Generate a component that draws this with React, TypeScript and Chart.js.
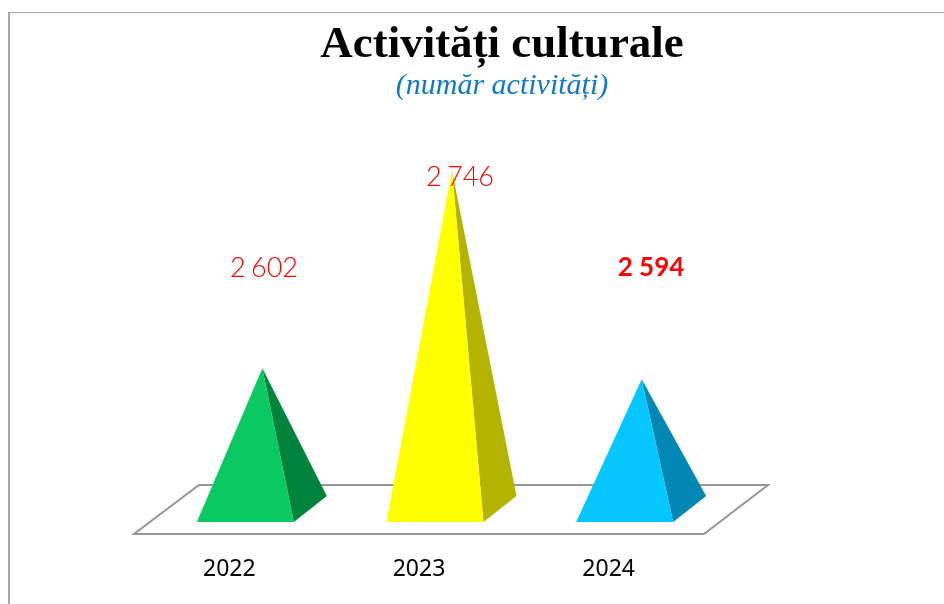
import React, { useEffect, useRef } from "react";
import { Chart, registerables } from "chart.js";

Chart.register(...registerables);

const categories = ["2022", "2023", "2024"];
const activities = [2602, 2746, 2594];
const frontColors = ["#0AC962", "#FFFF00", "#05C6FF"];
const sideColors = ["#00843C", "#B3B300", "#0087B3"];
const boldLabel = [false, false, true];
const labelShiftX = [18.7, 25, 26.3];
const labelShiftY = [-100, 7, -112];

const formatValue = (v: number) => String(v).replace(/\B(?=(\d{3})+$)/g, " ");

const pyramidPlugin = {
  id: "pyramids",
  beforeDraw(chart: any) {
    const { ctx, width, height } = chart;
    ctx.save();
    ctx.fillStyle = "#FFFFFF";
    ctx.fillRect(0, 0, width, height);
    ctx.fillStyle = "#A6A6A6";
    ctx.fillRect(8, 12, width - 8, 1);
    ctx.fillRect(8, 12, 2, height - 12);
    ctx.restore();
  },
  beforeDatasetsDraw(chart: any) {
    const { ctx, chartArea: a } = chart;
    ctx.save();
    ctx.strokeStyle = "#969696";
    ctx.lineWidth = 2;
    ctx.lineJoin = "miter";
    ctx.beginPath();
    ctx.moveTo(a.left - 16.5, a.bottom + 12);
    ctx.lineTo(a.right - 15.5, a.bottom + 12);
    ctx.lineTo(a.right + 48.5, a.bottom - 37);
    ctx.lineTo(a.left + 48.5, a.bottom - 37);
    ctx.closePath();
    ctx.stroke();
    ctx.restore();
  },
  afterDatasetsDraw(chart: any) {
    const { ctx, chartArea } = chart;
    const base = chartArea.bottom;
    const bars = chart.getDatasetMeta(0).data;
    ctx.save();
    bars.forEach((bar: any, i: number) => {
      const half = bar.width / 2;
      const apexX = bar.x + 17;
      const right = bar.x + half;
      ctx.fillStyle = sideColors[i];
      ctx.beginPath();
      ctx.moveTo(right, base);
      ctx.lineTo(right + 33, base - 26);
      ctx.lineTo(apexX, bar.y);
      ctx.closePath();
      ctx.fill();
      ctx.fillStyle = frontColors[i];
      ctx.beginPath();
      ctx.moveTo(bar.x - half, base);
      ctx.lineTo(right, base);
      ctx.lineTo(apexX, bar.y);
      ctx.closePath();
      ctx.fill();
    });
    ctx.textAlign = "center";
    ctx.textBaseline = "middle";
    ctx.fillStyle = "#FF0000";
    bars.forEach((bar: any, i: number) => {
      ctx.font = boldLabel[i] ? '700 26px "Lato"' : '300 27px "Lato"';
      ctx.wordSpacing = boldLabel[i] ? "0px" : "-2px";
      ctx.fillText(formatValue(activities[i]), bar.x + labelShiftX[i], bar.y + labelShiftY[i]);
    });
    ctx.restore();
  },
};

export default function App() {
  const ref = useRef<HTMLCanvasElement>(null);
  useEffect(() => {
    const hiddenAxis = (w: number, position: string) => ({
      position,
      min: 2490,
      max: 2790,
      display: true,
      ticks: { display: false },
      grid: { display: false },
      border: { display: false },
      afterFit: (s: any) => {
        s.width = w;
      },
    });
    const chart = new Chart(ref.current as HTMLCanvasElement, {
      type: "bar",
      data: {
        labels: categories,
        datasets: [
          {
            data: activities,
            backgroundColor: "rgba(0,0,0,0)",
            categoryPercentage: 1,
            barPercentage: 0.5114,
          },
        ],
      },
      plugins: [pyramidPlugin],
      options: {
        responsive: false,
        animation: false,
        layout: { padding: { left: 60, right: 0, top: 0, bottom: 0 } },
        plugins: {
          legend: { display: false },
          tooltip: { enabled: false },
          title: {
            display: true,
            text: "Activități culturale",
            color: "#000000",
            font: { family: '"Liberation Serif"', size: 45, weight: "bold", lineHeight: 1 },
            padding: { top: 23, bottom: 0 },
          },
          subtitle: {
            display: true,
            text: "(număr activități)",
            color: "#0F78C8",
            font: { family: '"Liberation Serif"', size: 30, style: "italic", weight: "normal", lineHeight: 1.2 },
            padding: { top: 0, bottom: 6 },
          },
        },
        scales: {
          x: {
            grid: { display: false, drawTicks: false },
            border: { display: false },
            ticks: {
              color: "#000000",
              font: { family: '"Noto Sans"', size: 23 },
              labelOffset: -16,
              padding: 34,
              maxRotation: 0,
            },
            afterFit: (s: any) => {
              s.height = 82;
            },
          },
          y: hiddenAxis(90.5, "left"),
          y2: hiddenAxis(224.5, "right"),
        },
      },
    } as any);
    return () => chart.destroy();
  }, []);
  return (
    <div style={{ position: "fixed", left: 0, top: 0, width: 944, height: 604, background: "#fff" }}>
      <canvas ref={ref} width={944} height={604} style={{ display: "block" }} />
    </div>
  );
}
